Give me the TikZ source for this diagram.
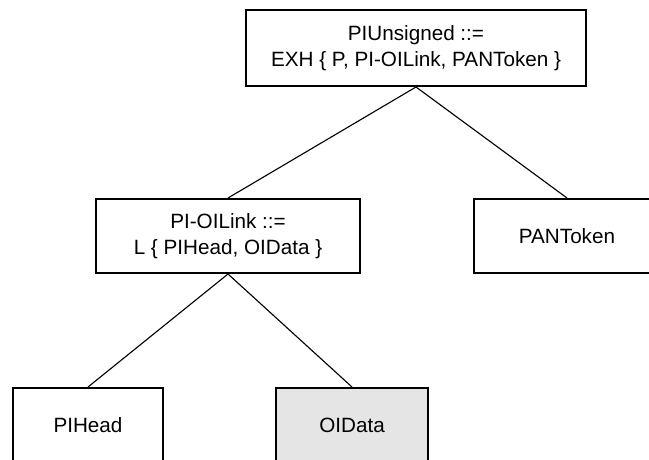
\documentclass[tikz,border=0pt]{standalone}
\usepackage{fontspec}
\setmainfont{Liberation Sans}
\usepackage{tikz}
\usetikzlibrary{positioning}
\definecolor{tkline}{RGB}{0,0,0}
\definecolor{tkshade}{RGB}{229,229,229}
\tikzset{
  tkBox/.style={draw=tkline, line width=1.4pt, fill=white, align=center,
                inner sep=0pt, minimum height=1.85cm,
                font=\fontsize{14.7}{18.5}\selectfont},
  tkEdge/.style={draw=tkline, line width=0.8pt}
}

\begin{document}
\begin{tikzpicture}[x=0.025cm,y=-0.025cm]
  \useasboundingbox (0,0) rectangle (649,459);
  \clip (0,0) rectangle (649,459);
  \node[tkBox, minimum width=8.5cm, minimum height=1.9cm] (unsigned) at (416,48)
        {PIUnsigned ::=\\EXH \{ P, PI-OILink, PANToken \}};
  \node[tkBox, minimum width=6.6cm] (oilink) at (228,236)
        {PI-OILink ::=\\L \{ PIHead, OIData \}};
  \node[tkBox, minimum width=4.65cm] (pantoken) at (567,236) {PANToken};
  \node[tkBox, minimum width=3.75cm] (pihead) at (88,425) {PIHead};
  \node[tkBox, minimum width=3.8cm, fill=tkshade] (oidata) at (352,425) {OIData};

  \draw[tkEdge] (unsigned.south) -- (oilink.north);
  \draw[tkEdge] (unsigned.south) -- (pantoken.north);
  \draw[tkEdge] (oilink.south) -- (pihead.north);
  \draw[tkEdge] (oilink.south) -- (oidata.north);
\end{tikzpicture}
\end{document}
